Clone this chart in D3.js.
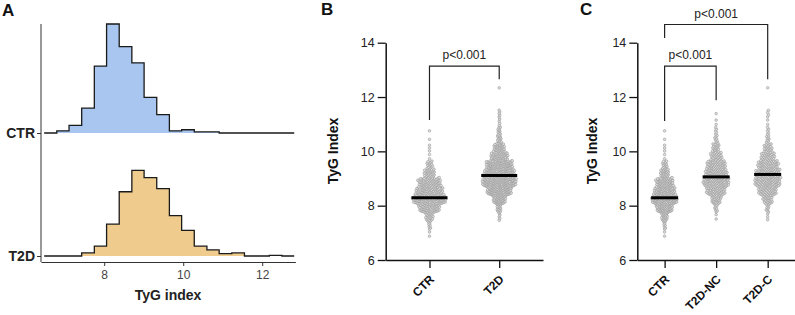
<!DOCTYPE html>
<html>
<head>
<meta charset="utf-8">
<script src="https://cdn.jsdelivr.net/npm/d3@7"></script>
<style>
    body { margin: 0; background: #fff; }
    text { font-family: "Liberation Sans", Arial, sans-serif; }
</style>
</head>
<body>
<div class="container"></div>
<script>
// bin edges of the TyG index histogram (panel A), shared by all groups
const binEdges = [6.48, 6.80, 7.11, 7.43, 7.75, 8.06, 8.38, 8.70, 9.01, 9.33, 9.65,
    9.96, 10.28, 10.60, 10.91, 11.23, 11.55, 11.86, 12.18, 12.50, 12.81];

// subjects per bin
const ctrCounts   = [0, 2, 7, 23, 62, 101, 80, 65, 33, 17, 2, 3, 1, 1, 0, 0, 0, 0, 0, 0];
const t2dNcCounts = [0, 0, 0, 2, 8, 27, 55, 72, 64, 54, 31, 20, 8, 5, 2, 1, 0, 0, 0, 0];
const t2dCCounts  = [0, 0, 0, 3, 8, 25, 50, 68, 64, 56, 35, 22, 8, 5, 2, 4, 0, 0, 1, 0];
const t2dCounts = t2dNcCounts.map((d, i) => d + t2dCCounts[i]);

const ridgeGroups = ['CTR', 'T2D'];
const groupsB = ['CTR', 'T2D'];
const groupsC = ['CTR', 'T2D-NC', 'T2D-C'];

const medians = { 'CTR': 8.29, 'T2D': 9.11, 'T2D-NC': 9.06, 'T2D-C': 9.15 };

const xTicksA = [8, 10, 12];
const yTicks = [6, 8, 10, 12, 14];

const bracketsB = [
    { a: 'CTR', b: 'T2D', top: 13.14, aEnd: 11.15, bEnd: 12.65, label: 'p<0.001' }
];
const bracketsC = [
    { a: 'CTR', b: 'T2D-NC', top: 13.14, aEnd: 11.12, bEnd: 11.88, label: 'p<0.001' },
    { a: 'CTR', b: 'T2D-C', top: 14.67, aEnd: 14.17, bEnd: 12.65, label: 'p<0.001' }
];

const countsOf = { 'CTR': ctrCounts, 'T2D': t2dCounts, 'T2D-NC': t2dNcCounts, 'T2D-C': t2dCCounts };

const width = 795;
const height = 315;
const font = '"Liberation Sans", Arial, sans-serif';

const svg = d3.select('.container')
    .append('svg')
    .attr('width', width)
    .attr('height', height);

svg.append('rect').attr('width', width).attr('height', height).attr('fill', '#fff');

const panelLabel = (x, y, t) => svg.append('text')
    .attr('x', x).attr('y', y)
    .attr('font-size', 17).attr('font-weight', 'bold')
    .attr('fill', '#111')
    .text(t);

// ---------- Panel A : ridgeline histograms ----------
panelLabel(2, 16, 'A');

const xA = d3.scaleLinear().domain([6.4, 12.84]).range([41, 295.4]);
const yA = d3.scalePoint().domain(['T2D', 'CTR']).range([256, 133]);
const binW = binEdges[1] - binEdges[0];

const density = g => {
    const c = countsOf[g];
    const n = d3.sum(c);
    return c.map(d => d / (n * binW));
};
const maxDensity = d3.max(ridgeGroups, g => d3.max(density(g)));
const hA = d3.scaleLinear().domain([0, maxDensity]).range([0, 109]);

const ridgeFill = { 'CTR': '#a8c6ef', 'T2D': '#efcb8d' };

ridgeGroups.forEach(g => {
    const dens = density(g);
    const pts = binEdges.map((e, i) => [e, i < dens.length ? dens[i] : dens[dens.length - 1]]);
    const base = yA(g);

    const area = d3.area()
        .curve(d3.curveStepAfter)
        .x(d => xA(d[0]))
        .y0(base)
        .y1(d => base - hA(d[1]));

    const line = d3.line()
        .curve(d3.curveStepAfter)
        .x(d => xA(d[0]))
        .y(d => base - hA(d[1]));

    svg.append('path').attr('d', area(pts)).attr('fill', ridgeFill[g]);
    svg.append('path').attr('d', line(pts))
        .attr('fill', 'none').attr('stroke', '#1a1a1a').attr('stroke-width', 1.3);
});

// axes A
svg.append('line')
    .attr('x1', 41).attr('x2', 41).attr('y1', 24).attr('y2', 262)
    .attr('stroke', '#333').attr('stroke-width', 1);

const gYA = svg.append('g')
    .attr('transform', 'translate(41,0)')
    .call(d3.axisLeft(yA).tickSize(4).tickSizeOuter(0).tickPadding(2));
gYA.select('.domain').remove();
gYA.selectAll('line').attr('stroke', '#333');
gYA.selectAll('text')
    .attr('font-family', font).attr('font-size', 14).attr('font-weight', 'bold').attr('fill', '#222');

const gXA = svg.append('g')
    .attr('transform', 'translate(0,262)')
    .call(d3.axisBottom(xA).tickValues(xTicksA).tickFormat(d3.format('d'))
        .tickSize(4).tickSizeOuter(0).tickPadding(4));
gXA.select('.domain').attr('stroke', '#333');
gXA.selectAll('line').attr('stroke', '#333');
gXA.selectAll('text')
    .attr('font-family', font).attr('font-size', 12).attr('fill', '#444');

svg.append('text')
    .attr('x', 168).attr('y', 300)
    .attr('text-anchor', 'middle')
    .attr('font-size', 14).attr('font-weight', 'bold').attr('fill', '#222')
    .text('TyG index');

// ---------- swarm helpers ----------
const valuesOf = g => {
    const out = [];
    countsOf[g].forEach((k, i) => {
        const lo = binEdges[i];
        const w = binEdges[i + 1] - lo;
        for (let j = 0; j < k; j++) out.push(lo + (j + 0.5) * w / k);
    });
    return out;
};

const swarm = (vals, y, d, cap) => {
    const pts = vals.map(v => ({ v: v, y: y(v), x: 0 })).sort((a, b) => b.y - a.y);
    const placed = [];
    let flip = 1;
    pts.forEach(p => {
        const ivs = [];
        for (let k = placed.length - 1; k >= 0; k--) {
            const q = placed[k];
            const dy = q.y - p.y;
            if (dy >= d) break;
            const dx = Math.sqrt(d * d - dy * dy);
            ivs.push([q.x - dx, q.x + dx]);
        }
        const cands = [0];
        ivs.forEach(iv => cands.push(iv[0], iv[1]));
        cands.sort((a, b) => Math.abs(a) - Math.abs(b) || (flip > 0 ? a - b : b - a));
        const c = cands.find(c => ivs.every(iv => c <= iv[0] + 1e-6 || c >= iv[1] - 1e-6));
        p.x = c;
        flip = -flip;
        placed.push(p);
    });
    const m = d3.max(pts, p => Math.abs(p.x)) || 1;
    const f = Math.min(1, cap / m);
    pts.forEach(p => { p.x *= f; });
    return pts;
};

// ---------- Panels B and C : scatter dot plots ----------
const yB = d3.scaleLinear().domain([6, 14]).range([260, 42.7]);

const dotPanel = (opts) => {
    const x = d3.scalePoint().domain(opts.groups).range([opts.x0, opts.x1]).padding(opts.pad);

    // y axis
    const gY = svg.append('g')
        .attr('transform', `translate(${opts.x0},0)`)
        .call(d3.axisLeft(yB).tickValues(yTicks).tickSize(8).tickSizeOuter(0).tickPadding(3));
    gY.select('.domain').attr('stroke', '#111').attr('stroke-width', 1.5);
    gY.selectAll('line').attr('stroke', '#111').attr('stroke-width', 1.3);
    gY.selectAll('text')
        .attr('font-family', font).attr('font-size', 12.5).attr('fill', '#222');

    // x axis
    const gX = svg.append('g')
        .attr('transform', 'translate(0,260)')
        .call(d3.axisBottom(x).tickSize(8).tickSizeOuter(0));
    gX.select('.domain').attr('stroke', '#111').attr('stroke-width', 1.5);
    gX.selectAll('line').attr('stroke', '#111').attr('stroke-width', 1.3);
    gX.selectAll('text')
        .attr('x', 0).attr('y', 0).attr('dy', 0)
        .attr('transform', 'translate(5,20) rotate(-45)')
        .attr('text-anchor', 'end')
        .attr('font-family', font).attr('font-size', 12).attr('font-weight', 'bold').attr('fill', '#111');

    // y title
    svg.append('text')
        .attr('transform', `translate(${opts.titleX},151) rotate(-90)`)
        .attr('text-anchor', 'middle')
        .attr('font-size', 14).attr('font-weight', 'bold').attr('fill', '#111')
        .text('TyG Index');

    // dots
    opts.groups.forEach(g => {
        const pts = swarm(valuesOf(g), yB, 2.6, opts.cap);
        svg.append('g').selectAll('circle')
            .data(pts)
            .join('circle')
            .attr('cx', p => x(g) + p.x)
            .attr('cy', p => p.y)
            .attr('r', 1.3)
            .attr('fill', '#dedede')
            .attr('stroke', '#999')
            .attr('stroke-width', 0.6);
    });

    // medians
    svg.append('g').selectAll('line')
        .data(opts.groups)
        .join('line')
        .attr('x1', g => x(g) - opts.medHalf)
        .attr('x2', g => x(g) + opts.medHalf)
        .attr('y1', g => yB(medians[g]))
        .attr('y2', g => yB(medians[g]))
        .attr('stroke', '#000').attr('stroke-width', 3);

    // significance brackets
    opts.brackets.forEach(b => {
        const path = d3.path();
        path.moveTo(x(b.a), yB(b.aEnd));
        path.lineTo(x(b.a), yB(b.top));
        path.lineTo(x(b.b), yB(b.top));
        path.lineTo(x(b.b), yB(b.bEnd));
        svg.append('path').attr('d', path.toString())
            .attr('fill', 'none').attr('stroke', '#222').attr('stroke-width', 1.2);
        svg.append('text')
            .attr('x', (x(b.a) + x(b.b)) / 2)
            .attr('y', yB(b.top) - 7)
            .attr('text-anchor', 'middle')
            .attr('font-size', 12).attr('fill', '#222')
            .text(b.label);
    });
};

panelLabel(321, 15, 'B');
dotPanel({ groups: groupsB, x0: 385.7, x1: 543, pad: 0.628, cap: 17, medHalf: 18,
    titleX: 338, brackets: bracketsB });

panelLabel(580, 15, 'C');
dotPanel({ groups: groupsC, x0: 637.3, x1: 795, pad: 0.53, cap: 13, medHalf: 13.5,
    titleX: 597, brackets: bracketsC });
</script>
</body>
</html>
